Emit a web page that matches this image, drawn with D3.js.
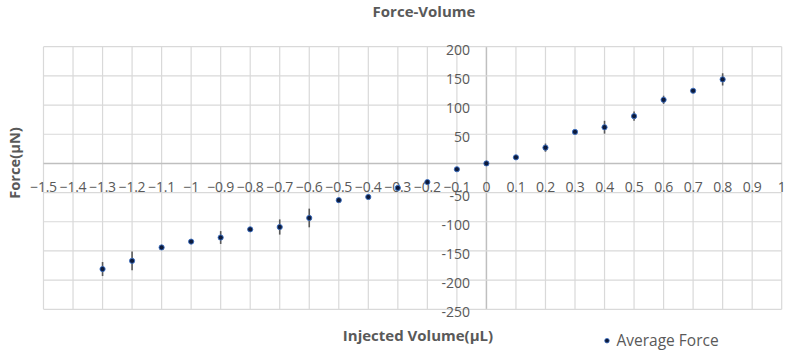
<!DOCTYPE html>
<html><head><meta charset="utf-8">
<script src="https://cdn.jsdelivr.net/npm/d3@7"></script>
<style>body{margin:0;background:#fff}svg{display:block}text{font-family:"Open Sans","Liberation Sans",sans-serif}</style>
</head><body><div id="c"></div>
<script>
const volume = [-1.3,-1.2,-1.1,-1.0,-0.9,-0.8,-0.7,-0.6,-0.5,-0.4,-0.3,-0.2,-0.1,0,0.1,0.2,0.3,0.4,0.5,0.6,0.7,0.8];
const force  = [-181,-167,-144,-134,-127,-113,-109,-93.5,-63,-57.5,-42,-32,-10,0,10.4,27,54,62,81,109,124.5,144];
const errors = [12,16,2,2,11,2,13,16,2,2,2,2,2,1,2,7,2,11,8,7,2,10.5];
const xTicks = [-1.5,-1.4,-1.3,-1.2,-1.1,-1,-0.9,-0.8,-0.7,-0.6,-0.5,-0.4,-0.3,-0.2,-0.1,0,0.1,0.2,0.3,0.4,0.5,0.6,0.7,0.8,0.9,1];
const yTicks = [200,150,100,50,0,-50,-100,-150,-200,-250];
const title = "Force-Volume", xTitle = "Injected Volume(µL)", yTitle = "Force(µN)", seriesName = "Average Force";

const W = 787, H = 352;
const svg = d3.select("#c").append("svg").attr("width", W).attr("height", H);
const x = d3.scaleLinear().domain([-1.5, 1]).range([43.5, 781.7]);
const y = d3.scaleLinear().domain([-250, 200]).range([309.3, 46.7]);
const gray = "#595959";

// gridlines
const grid = svg.append("g");
grid.selectAll(".vx").data(xTicks).join("line")
  .attr("x1", d => x(d)).attr("x2", d => x(d)).attr("y1", y(200)).attr("y2", y(-250))
  .attr("stroke", d => d === 0 ? "#bfbfbf" : "#d9d9d9").attr("stroke-width", d => d === 0 ? 1.5 : 1.2);
grid.selectAll(".hy").data(yTicks).join("line")
  .attr("x1", x(-1.5)).attr("x2", x(1)).attr("y1", d => y(d)).attr("y2", d => y(d))
  .attr("stroke", d => d === 0 ? "#bfbfbf" : "#d9d9d9").attr("stroke-width", d => d === 0 ? 1.5 : 1.2);

// x tick labels
svg.append("g").selectAll("text").data(xTicks).join("text")
  .attr("x", d => x(d)).attr("y", 191.7).attr("text-anchor", "middle")
  .attr("font-size", 14).attr("fill", gray).attr("letter-spacing", -0.3)
  .text(d => d3.format("")(d));

// y tick labels
svg.append("g").selectAll("text").data(yTicks.filter(d => d !== 0)).join("text")
  .attr("x", x(0) - 16.5).attr("y", d => y(d) + 8).attr("text-anchor", "end")
  .attr("font-size", 14).attr("fill", gray)
  .text(d => d);

// error bars
svg.append("g").selectAll("line").data(volume).join("line")
  .attr("x1", (d) => x(d)).attr("x2", d => x(d))
  .attr("y1", (d, i) => y(force[i] + errors[i])).attr("y2", (d, i) => y(force[i] - errors[i]))
  .attr("stroke", "#595959").attr("stroke-width", 1.6);

// points
svg.append("g").selectAll("circle").data(volume).join("circle")
  .attr("cx", d => x(d)).attr("cy", (d, i) => y(force[i])).attr("r", 2.6)
  .attr("fill", "#0d1a3a").attr("stroke", "#3b6fc4").attr("stroke-width", 0.9);

// titles
svg.append("text").attr("x", 424).attr("y", 16.5).attr("text-anchor", "middle")
  .attr("font-size", 15).attr("font-weight", "bold").attr("fill", gray).text(title);
svg.append("text").attr("x", 418).attr("y", 341).attr("text-anchor", "middle")
  .attr("font-size", 15).attr("font-weight", "bold").attr("fill", gray).text(xTitle);
svg.append("text").attr("transform", "translate(20,163) rotate(-90)").attr("text-anchor", "middle")
  .attr("font-size", 14.7).attr("font-weight", "bold").attr("fill", gray).text(yTitle);

// legend
svg.append("circle").attr("cx", 607).attr("cy", 340.7).attr("r", 2.3)
  .attr("fill", "#0d1a3a").attr("stroke", "#3b6fc4").attr("stroke-width", 0.8);
svg.append("text").attr("x", 616.5).attr("y", 346).attr("font-size", 15.5).attr("fill", gray).text(seriesName);
</script></body></html>
